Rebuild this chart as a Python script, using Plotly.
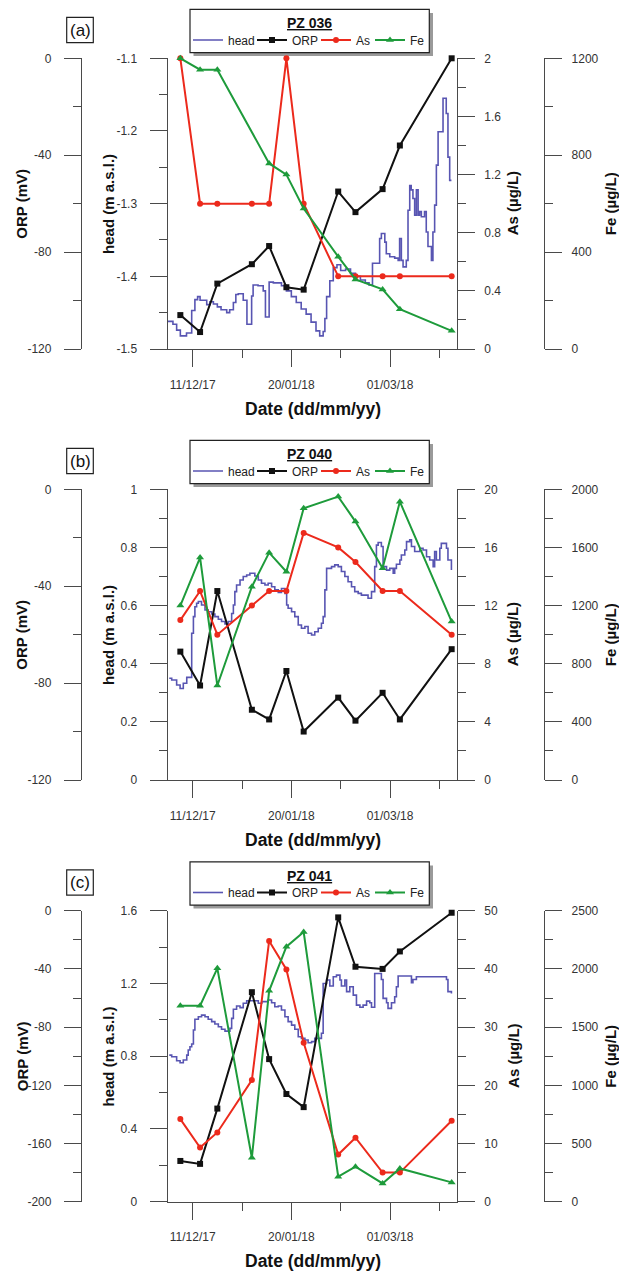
import pandas as pd
import plotly.graph_objects as go

W, H = 619, 1272
FONT = "Liberation Sans, Arial, sans-serif"

# ---------------- data ----------------
sample_dates = ["2017-12-06", "2017-12-14", "2017-12-21", "2018-01-04", "2018-01-11", "2018-01-18",
                "2018-01-25", "2018-02-08", "2018-02-15", "2018-02-26", "2018-03-05", "2018-03-26"]

# PZ 036
orp_a = [-106, -113, -93, -85, -77.5, -94.5, -95.5, -55, -63.5, -54, -36, 0]
as_a = [2.0, 1.0, 1.0, 1.0, 1.0, 2.0, 1.0, 0.5, 0.5, 0.5, 0.5, 0.5]
fe_a = [1200, 1153, 1153, None, 766, 720, 580, 381, 287, 246, 164, 75]

# PZ 040
orp_b = [-67, -81, -42, -91, -95, -75, -100, -86, -95.5, -84, -95, -66]
as_b = [11, 13, 10, 12, 13, 13, 17, 16, 15, 13, 13, 10]
fe_b = [1200, 1530, 650, 1330, 1564, 1433, 1870, 1950, 1778, 1456, 1915, 1090]

# PZ 041
orp_c = [-172, -174, -136, -56, -102, -126, -135, -4.6, -38.5, -40, -28, -1.4]
as_c = [14.2, 9.3, 11.9, 20.9, 44.8, 39.9, 27.3, 8.1, 11.0, 5.0, 5.0, 13.9]
fe_c = [1684, 1684, 2005, 378, 1812, 2191, 2317, 215, 301, 157, 286, 166]

# head series: days relative to 11/12/17 and head (m a.s.l.)
head_ref = "2017-12-11"
head_a_day = [-10.0, -8.0, -6.5, -5.0, -2.5, -0.4, 0.9, 2.0, 3.0, 5.7, 7.0, 8.4, 10.0, 11.5, 13.8, 15.0,
              16.5, 17.5, 18.5, 20.5, 22.0, 23.9, 24.5, 26.5, 28.6, 29.5, 31.0, 32.7, 36.0, 38.0, 40.0,
              42.0, 44.0, 46.0, 48.0, 50.0, 51.5, 52.9, 53.6, 54.3, 55.6, 57.0, 58.5, 60.0, 62.0, 64.0,
              66.0, 68.0, 70.0, 71.5, 72.9, 75.8, 76.5, 77.9, 78.5, 79.9, 81.9, 83.3, 83.9, 84.6, 85.3,
              86.6, 87.3, 88.0, 88.6, 89.3, 90.0, 90.7, 91.4, 92.0, 92.7, 94.0, 94.7, 95.4, 96.8, 97.4,
              98.1, 98.8, 99.5, 101.5, 102.8, 103.5, 104.2, 104.9]
head_a = [-1.462, -1.466, -1.474, -1.482, -1.478, -1.447, -1.432, -1.428, -1.433, -1.439, -1.435, -1.438,
          -1.442, -1.446, -1.450, -1.446, -1.436, -1.425, -1.424, -1.433, -1.466, -1.427, -1.412, -1.413,
          -1.420, -1.456, -1.408, -1.409, -1.413, -1.420, -1.428, -1.436, -1.445, -1.452, -1.463, -1.475,
          -1.482, -1.476, -1.458, -1.428, -1.406, -1.388, -1.384, -1.392, -1.390, -1.396, -1.400, -1.405,
          -1.409, -1.412, -1.382, -1.348, -1.341, -1.353, -1.369, -1.373, -1.375, -1.378, -1.348, -1.378,
          -1.387, -1.378, -1.309, -1.275, -1.281, -1.293, -1.316, -1.281, -1.316, -1.311, -1.318, -1.311,
          -1.339, -1.359, -1.378, -1.339, -1.302, -1.247, -1.201, -1.155, -1.176, -1.236, -1.268, -1.268]

head_b_day = [-9.5, -8.5, -6.5, -5.1, -3.8, -2.4, -0.4, 0.3, 0.9, 1.6, 2.3, 3.6, 5.0, 6.3, 7.7, 9.0, 10.4,
              11.7, 13.1, 14.4, 15.8, 16.5, 17.1, 17.8, 19.2, 20.5, 21.9, 23.2, 25.2, 26.6, 27.9, 29.3,
              30.6, 32.0, 33.3, 34.7, 36.0, 37.4, 38.1, 38.7, 40.1, 41.4, 42.8, 44.1, 45.5, 46.8, 48.2,
              49.5, 50.9, 52.2, 52.9, 53.6, 54.3, 56.3, 57.6, 59.0, 60.3, 61.7, 63.0, 64.4, 65.7, 67.1,
              68.4, 71.1, 72.5, 73.8, 74.5, 75.2, 76.5, 77.2, 78.6, 79.9, 81.3, 81.9, 82.6, 84.0, 84.6,
              86.0, 86.7, 88.0, 88.7, 90.0, 92.1, 93.4, 94.8, 96.1, 97.5, 98.1, 98.8, 100.2, 100.8, 102.2,
              102.9, 103.5, 104.9]
head_b = [0.350, 0.344, 0.327, 0.315, 0.333, 0.353, 0.505, 0.562, 0.596, 0.608, 0.614, 0.602, 0.585,
          0.579, 0.571, 0.562, 0.553, 0.545, 0.537, 0.545, 0.573, 0.602, 0.648, 0.671, 0.688, 0.700,
          0.705, 0.711, 0.702, 0.688, 0.677, 0.671, 0.677, 0.665, 0.654, 0.645, 0.659, 0.642, 0.602,
          0.591, 0.579, 0.562, 0.533, 0.522, 0.528, 0.505, 0.499, 0.510, 0.522, 0.539, 0.562, 0.654,
          0.728, 0.734, 0.740, 0.734, 0.717, 0.700, 0.682, 0.665, 0.648, 0.642, 0.636, 0.625, 0.648,
          0.734, 0.808, 0.817, 0.803, 0.734, 0.722, 0.728, 0.711, 0.728, 0.742, 0.757, 0.774, 0.791,
          0.820, 0.826, 0.803, 0.786, 0.797, 0.791, 0.768, 0.757, 0.734, 0.786, 0.757, 0.797, 0.814,
          0.814, 0.797, 0.757, 0.722]

head_c_day = [-9.5, -8.5, -6.5, -5.1, -3.8, -2.4, -1.8, -1.1, -0.4, 0.3, 0.9, 2.3, 3.6, 5.0, 6.3, 7.7,
              9.0, 10.4, 11.7, 13.1, 15.1, 15.8, 16.5, 17.8, 19.2, 20.5, 21.9, 26.6, 28.0, 30.6, 32.0,
              33.3, 34.7, 36.0, 37.4, 38.7, 40.1, 41.4, 42.8, 44.1, 45.5, 46.8, 48.2, 49.5, 50.9, 52.2,
              52.9, 54.3, 55.6, 57.0, 58.3, 59.7, 60.3, 61.7, 62.4, 63.7, 65.1, 66.4, 67.8, 69.1, 70.5,
              71.8, 72.5, 73.8, 76.5, 77.2, 78.6, 79.2, 80.6, 81.9, 82.6, 83.3, 88.7, 89.3, 90.7, 102.9,
              103.5, 104.9]
head_c = [0.806, 0.797, 0.775, 0.764, 0.779, 0.806, 0.834, 0.852, 0.867, 0.944, 1.003, 1.017, 1.026,
          1.017, 1.003, 0.990, 0.977, 0.962, 0.948, 0.938, 0.953, 1.008, 1.058, 1.076, 1.067, 1.091,
          1.105, 1.091, 1.100, 1.109, 1.094, 1.072, 1.076, 1.054, 1.017, 0.990, 0.971, 0.948, 0.907,
          0.898, 0.889, 0.874, 0.880, 0.898, 0.898, 0.926, 1.200, 1.219, 1.186, 1.237, 1.246, 1.219,
          1.186, 1.219, 1.155, 1.182, 1.136, 1.081, 1.069, 1.081, 1.103, 1.094, 1.069, 1.255, 1.222,
          1.118, 1.094, 1.063, 1.094, 1.127, 1.182, 1.241, 1.204, 1.222, 1.237, 1.222, 1.155, 1.145]

# tick labels
head_a_ticks = [-1.5, -1.4, -1.3, -1.2, -1.1]
head_a_ticktext = ["-1.5", "-1.4", "-1.3", "-1.2", "-1.1"]
orp_ab_ticks = [-120, -80, -40, 0]
orp_ab_ticktext = ["-120", "-80", "-40", "0"]
orp_c_ticks = [-200, -160, -120, -80, -40, 0]
orp_c_ticktext = ["-200", "-160", "-120", "-80", "-40", "0"]

panel_names = ["PZ 036", "PZ 040", "PZ 041"]
panel_labels = ["(a)", "(b)", "(c)"]
series_names = ["head", "ORP", "As", "Fe"]

# ---------------- style ----------------
C_HEAD, C_ORP, C_AS, C_FE = "#5855b2", "#111111", "#ec2a1c", "#1e9b3b"
AX_C = "#4a4a4a"
TICK_FONT = dict(family=FONT, size=12, color="#333333")

tops = [58.3, 489.3, 910.7]
bots = [349.0, 780.0, 1201.7]
offs = [0, 431.0, 852.5]
XL, XR = 167.7, 456.7
ORP_X, FE_X = 81.0, 544.0
LEG_X = [188, 252, 316, 370]   # legend entry left edges (px)


def X(px):
    return px / W


def Y(py):
    return 1 - py / H


def days_to_dates(days):
    return [pd.Timestamp(head_ref) + pd.Timedelta(days=d) for d in days]


DAY_MS = 86400000
panels = [
    dict(head=(head_a_day, head_a), orp=orp_a, as_=as_a, fe=fe_a,
         head_axis=dict(range=[-1.5, -1.1], tickmode="array", tickvals=head_a_ticks, ticktext=head_a_ticktext,
                        minor=dict(tickmode="linear", tick0=-1.5, dtick=0.05)),
         orp_axis=dict(range=[-120, 0], tickmode="array", tickvals=orp_ab_ticks, ticktext=orp_ab_ticktext,
                       minor=dict(tickmode="linear", tick0=0, dtick=20)),
         as_axis=dict(range=[0, 2], dtick=0.4, tick0=0, minor=dict(dtick=0.2)),
         fe_axis=dict(range=[0, 1200], dtick=400, tick0=0, minor=dict(dtick=200))),
    dict(head=(head_b_day, head_b), orp=orp_b, as_=as_b, fe=fe_b,
         head_axis=dict(range=[0, 1], dtick=0.2, tick0=0, minor=dict(dtick=0.1)),
         orp_axis=dict(range=[-120, 0], tickmode="array", tickvals=orp_ab_ticks, ticktext=orp_ab_ticktext,
                       minor=dict(tickmode="linear", tick0=0, dtick=20)),
         as_axis=dict(range=[0, 20], dtick=4, tick0=0, minor=dict(dtick=2)),
         fe_axis=dict(range=[0, 2000], dtick=400, tick0=0, minor=dict(dtick=200))),
    dict(head=(head_c_day, head_c), orp=orp_c, as_=as_c, fe=fe_c,
         head_axis=dict(range=[0, 1.6], dtick=0.4, tick0=0, minor=dict(dtick=0.2)),
         orp_axis=dict(range=[-200, 0], tickmode="array", tickvals=orp_c_ticks, ticktext=orp_c_ticktext,
                       minor=dict(tickmode="linear", tick0=0, dtick=20)),
         as_axis=dict(range=[0, 50], dtick=10, tick0=0, minor=dict(dtick=5)),
         fe_axis=dict(range=[0, 2500], dtick=500, tick0=0, minor=dict(dtick=250))),
]

fig = go.Figure()
layout = dict(
    template="none",
    width=W, height=H, margin=dict(l=0, r=0, t=0, b=0, autoexpand=False),
    paper_bgcolor="white", plot_bgcolor="rgba(0,0,0,0)",
    font=dict(family=FONT, size=12, color="#222222"),
    showlegend=True,
)
annotations = []
shapes = []

common = dict(showline=True, linecolor=AX_C, linewidth=1.3, ticks="outside", tickcolor=AX_C,
              tickwidth=1.3, ticklen=17, showgrid=False, zeroline=False, tickfont=TICK_FONT,
              automargin=False)


def minor_style(d):
    m = dict(ticklen=8, tickcolor=AX_C, tickwidth=1.3, ticks="outside", showgrid=False)
    m.update(d)
    return m


def ann(text, xp, yp, size, angle=0, color="#111"):
    return dict(text=text, x=X(xp), y=Y(yp), xref="paper", yref="paper", showarrow=False,
                xanchor="center", yanchor="middle", textangle=angle,
                font=dict(family=FONT, size=size, color=color))


for i, p in enumerate(panels):
    xn = "x" if i == 0 else f"x{i + 1}"
    xkey = "xaxis" if i == 0 else f"xaxis{i + 1}"
    yn = [("y" if 4 * i + k == 1 else f"y{4 * i + k}") for k in range(1, 5)]
    ykey = [("yaxis" if 4 * i + k == 1 else f"yaxis{4 * i + k}") for k in range(1, 5)]
    legs = [("legend" if 4 * i + k == 1 else f"legend{4 * i + k}") for k in range(1, 5)]
    dom = [Y(bots[i]), Y(tops[i])]
    o = offs[i]
    mid = (tops[i] + bots[i]) / 2

    layout[xkey] = dict(common, domain=[X(XL), X(XR)], anchor=yn[0], type="date",
                        range=["2017-11-30 21:00", "2018-03-28 01:00"], ticklabelstandoff=7,
                        tick0="2017-12-11", dtick=40 * DAY_MS, tickformat="%d/%m/%y",
                        minor=minor_style(dict(tick0="2017-12-11", dtick=20 * DAY_MS)))

    ha = dict(p["head_axis"]); hm = ha.pop("minor")
    layout[ykey[0]] = dict(common, domain=dom, anchor=xn, side="left", ticklabelstandoff=10,
                           minor=minor_style(hm), **ha)
    oa = dict(p["orp_axis"]); om = oa.pop("minor")
    layout[ykey[1]] = dict(common, overlaying=yn[0], anchor="free", position=X(ORP_X), side="left",
                           ticklabelstandoff=10, minor=minor_style(om), **oa)
    aa = dict(p["as_axis"]); am = aa.pop("minor")
    layout[ykey[2]] = dict(common, overlaying=yn[0], anchor=xn, side="right", ticklabelstandoff=7,
                           minor=minor_style(am), **aa)
    fa = dict(p["fe_axis"]); fm = fa.pop("minor")
    layout[ykey[3]] = dict(common, overlaying=yn[0], anchor="free", position=X(FE_X), side="right",
                           ticklabelstandoff=7, minor=minor_style(fm), **fa)

    hd, hv = p["head"]
    fig.add_trace(go.Scatter(x=days_to_dates(hd), y=hv, mode="lines", name=series_names[0],
                             line=dict(color=C_HEAD, width=1.6, shape="hv"),
                             xaxis=xn, yaxis=yn[0], legend=legs[0]))
    fig.add_trace(go.Scatter(x=sample_dates, y=p["orp"], mode="lines+markers", name=series_names[1],
                             line=dict(color=C_ORP, width=2), marker=dict(symbol="square", size=6, color=C_ORP),
                             xaxis=xn, yaxis=yn[1], legend=legs[1], cliponaxis=False))
    fig.add_trace(go.Scatter(x=sample_dates, y=p["as_"], mode="lines+markers", name=series_names[2],
                             line=dict(color=C_AS, width=2), marker=dict(symbol="circle", size=6, color=C_AS),
                             xaxis=xn, yaxis=yn[2], legend=legs[2], cliponaxis=False))
    fig.add_trace(go.Scatter(x=sample_dates, y=p["fe"], mode="lines+markers", name=series_names[3],
                             connectgaps=True, line=dict(color=C_FE, width=2),
                             marker=dict(symbol="triangle-up", size=7, color=C_FE),
                             xaxis=xn, yaxis=yn[3], legend=legs[3], cliponaxis=False))

    for k in range(4):
        layout[legs[k]] = dict(orientation="h", x=X(LEG_X[k]), y=Y(40 + o), xanchor="left", yanchor="middle",
                               bgcolor="rgba(0,0,0,0)", borderwidth=0,
                               font=dict(family=FONT, size=12, color="#222"))

    # legend frame with shadow
    shapes.append(dict(type="rect", xref="paper", yref="paper", x0=X(193.5), x1=X(433), y0=Y(56 + o),
                       y1=Y(13 + o), fillcolor="#9a9a9a", line=dict(width=0), layer="below"))
    shapes.append(dict(type="rect", xref="paper", yref="paper", x0=X(190), x1=X(429.3), y0=Y(52.7 + o),
                       y1=Y(9.3 + o), fillcolor="white", line=dict(color="#222", width=1.2), layer="below"))
    annotations.append(ann(f"<b><u>{panel_names[i]}</u></b>", 309.5, 23 + o, 14))
    # panel label
    shapes.append(dict(type="rect", xref="paper", yref="paper", x0=X(66.7), x1=X(93.3), y0=Y(42.7 + o),
                       y1=Y(17.3 + o), fillcolor="white", line=dict(color="#222", width=1.2), layer="below"))
    annotations.append(ann(panel_labels[i], 80, 30 + o, 17))
    # axis titles
    for txt, xp in [("ORP (mV)", 22), ("head (m a.s.l.)", 108.3), ("As (µg/L)", 512.7), ("Fe (µg/L)", 610.5)]:
        annotations.append(ann(f"<b>{txt}</b>", xp, mid, 15, angle=-90))
    annotations.append(ann("<b>Date (dd/mm/yy)</b>", 313, 408.5 + o, 17.5))

layout["annotations"] = annotations
layout["shapes"] = shapes
fig.update_layout(**layout)
fig.write_html("out.html", config={"displayModeBar": False},
               post_script="document.body.style.margin='0';document.body.style.overflow='hidden';")
